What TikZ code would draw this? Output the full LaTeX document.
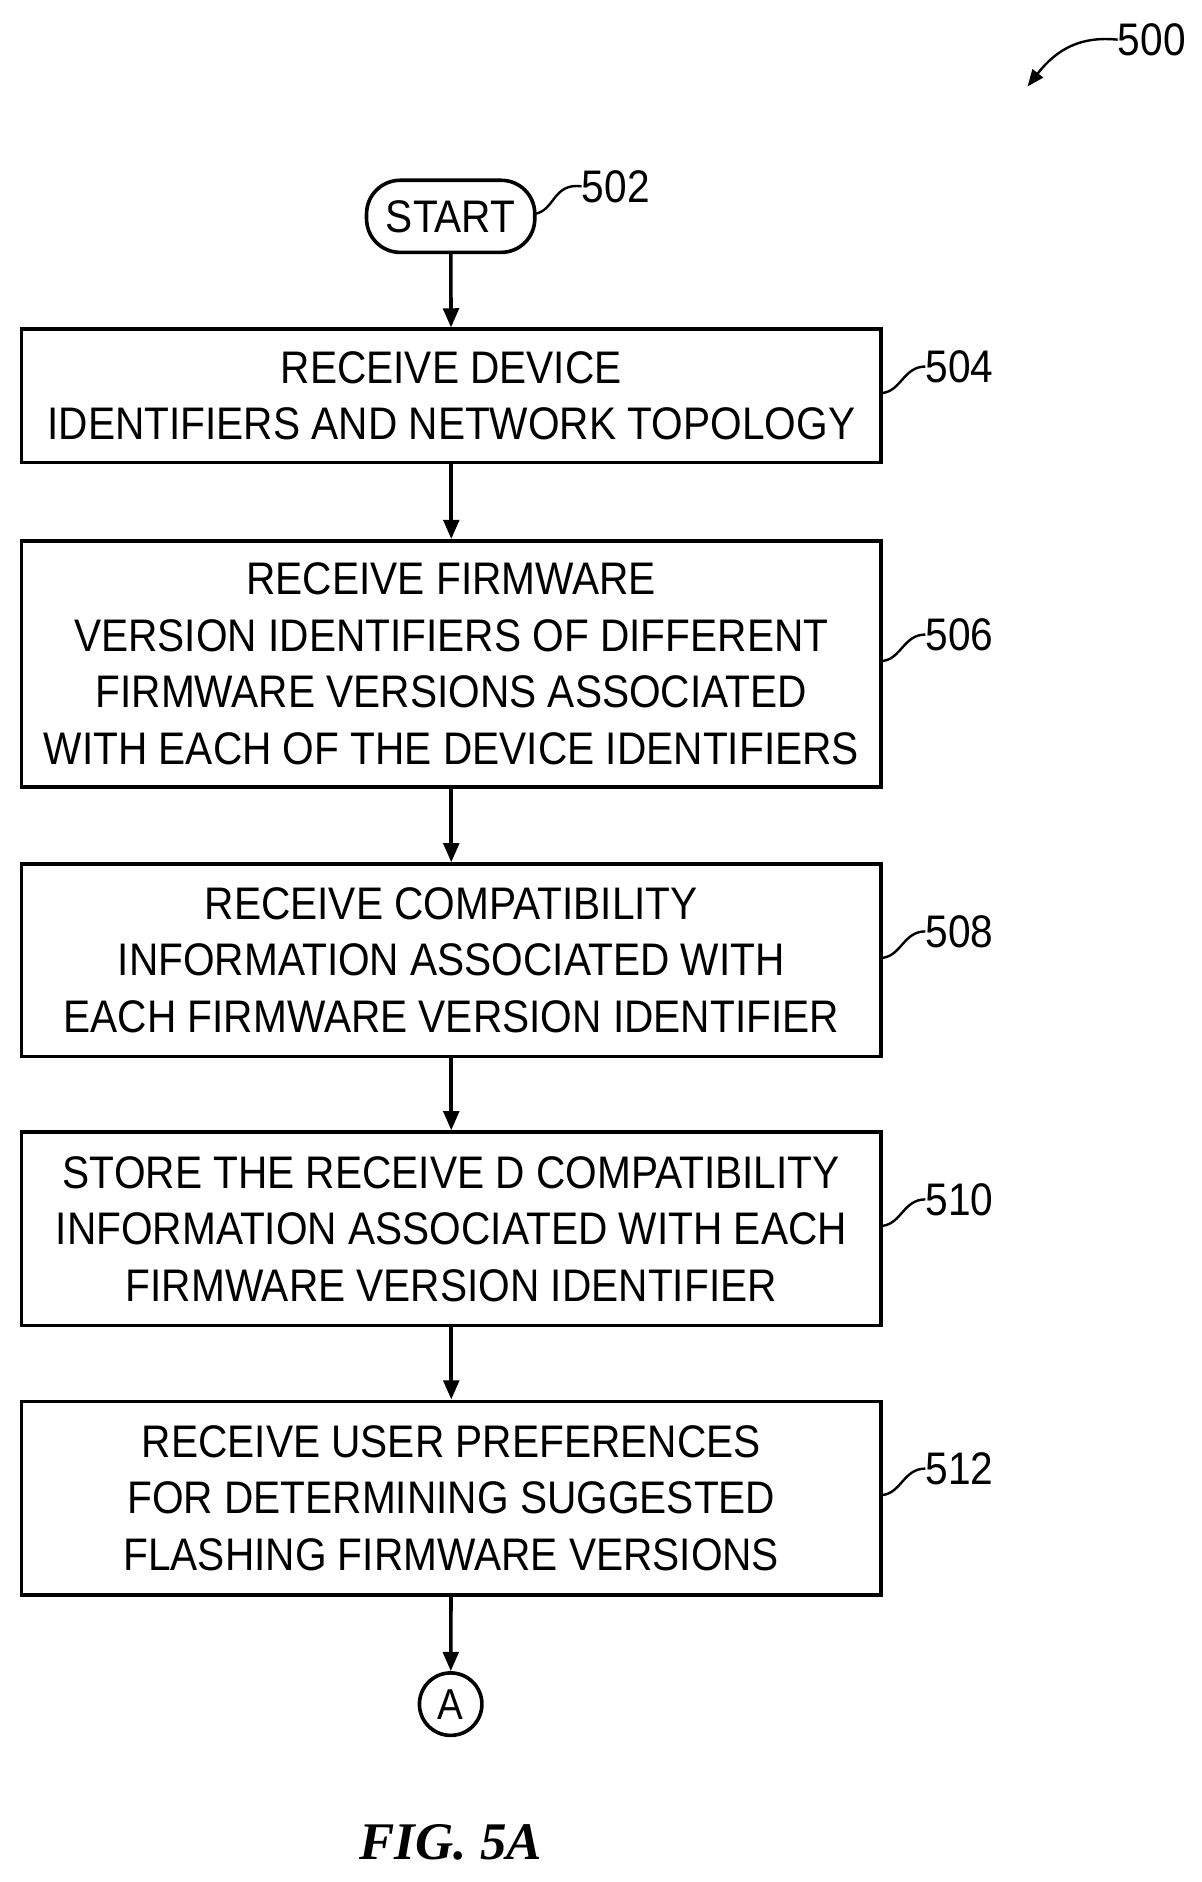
\documentclass[tikz,border=0pt]{standalone}
\usepackage{fontspec}
\setmainfont{Liberation Sans}[FakeStretch=0.89]
\newfontfamily\figfont{Liberation Serif}
\usetikzlibrary{arrows.meta}
\begin{document}
\begin{tikzpicture}[x=1pt,y=-1pt,
  box/.style={draw,line width=3pt,minimum width=715pt,inner sep=0pt,align=center,font=\fontsize{38}{47}\selectfont},
  lbl/.style={font=\fontsize{38}{40}\selectfont,anchor=west,inner sep=0pt},
  arr/.style={line width=3pt,-{Triangle[length=16pt,width=13pt]}},
  lead/.style={line width=2pt}]
\useasboundingbox (0,0) rectangle (1000,1566);
\node[draw,line width=3pt,rounded corners=28pt,minimum width=140pt,minimum height=60pt,inner sep=0pt,font=\fontsize{38}{40}\selectfont] (start) at (375,180) {START};
\node[box,minimum height=111pt] (b504) at (375.5,329.5) {RECEIVE DEVICE\\IDENTIFIERS AND NETWORK TOPOLOGY};
\node[box,minimum height=205pt] (b506) at (375.5,552.5) {RECEIVE FIRMWARE\\VERSION IDENTIFIERS OF DIFFERENT\\FIRMWARE VERSIONS ASSOCIATED\\WITH EACH OF THE DEVICE IDENTIFIERS};
\node[box,minimum height=160pt] (b508) at (375.5,799) {RECEIVE COMPATIBILITY\\INFORMATION ASSOCIATED WITH\\EACH FIRMWARE VERSION IDENTIFIER};
\node[box,minimum height=161pt] (b510) at (375.5,1022.5) {STORE THE RECEIVE D COMPATIBILITY\\INFORMATION ASSOCIATED WITH EACH\\FIRMWARE VERSION IDENTIFIER};
\node[box,minimum height=161pt] (b512) at (375.5,1246.5) {RECEIVE USER PREFERENCES\\FOR DETERMINING SUGGESTED\\FLASHING FIRMWARE VERSIONS};
\node[draw,circle,line width=3pt,minimum size=52pt,inner sep=0pt,font=\fontsize{36}{40}\selectfont] (A) at (375,1418) {A};
\node[font=\figfont\bfseries\itshape\fontsize{44}{48}\selectfont] (fig) at (375,1533) {FIG. 5A};
\draw[arr] (start) -- (b504);
\draw[arr] (b504) -- (b506);
\draw[arr] (b506) -- (b508);
\draw[arr] (b508) -- (b510);
\draw[arr] (b510) -- (b512);
\draw[arr] (b512) -- (A);
\node[lbl] (l502) at (484,155) {502};
\draw[lead] (445,178) .. controls (462,175) and (460,152) .. (l502.west);
\foreach \n/\y in {504/305,506/528,508/775,510/998,512/1222}{
  \node[lbl] (l\n) at (770,\y) {\n};
  \draw[lead] (b\n.east|-0,\y+22) .. controls (750,\y+20) and (752,\y) .. (l\n.west);
}
\node[lbl] (l500) at (930,33) {500};
\coordinate (t500) at (855,72);
\draw[line width=2pt,-{Triangle[length=14pt,width=11pt]}] (l500.west) .. controls (900,30) and (880,40) .. (t500);
\end{tikzpicture}
\end{document}
